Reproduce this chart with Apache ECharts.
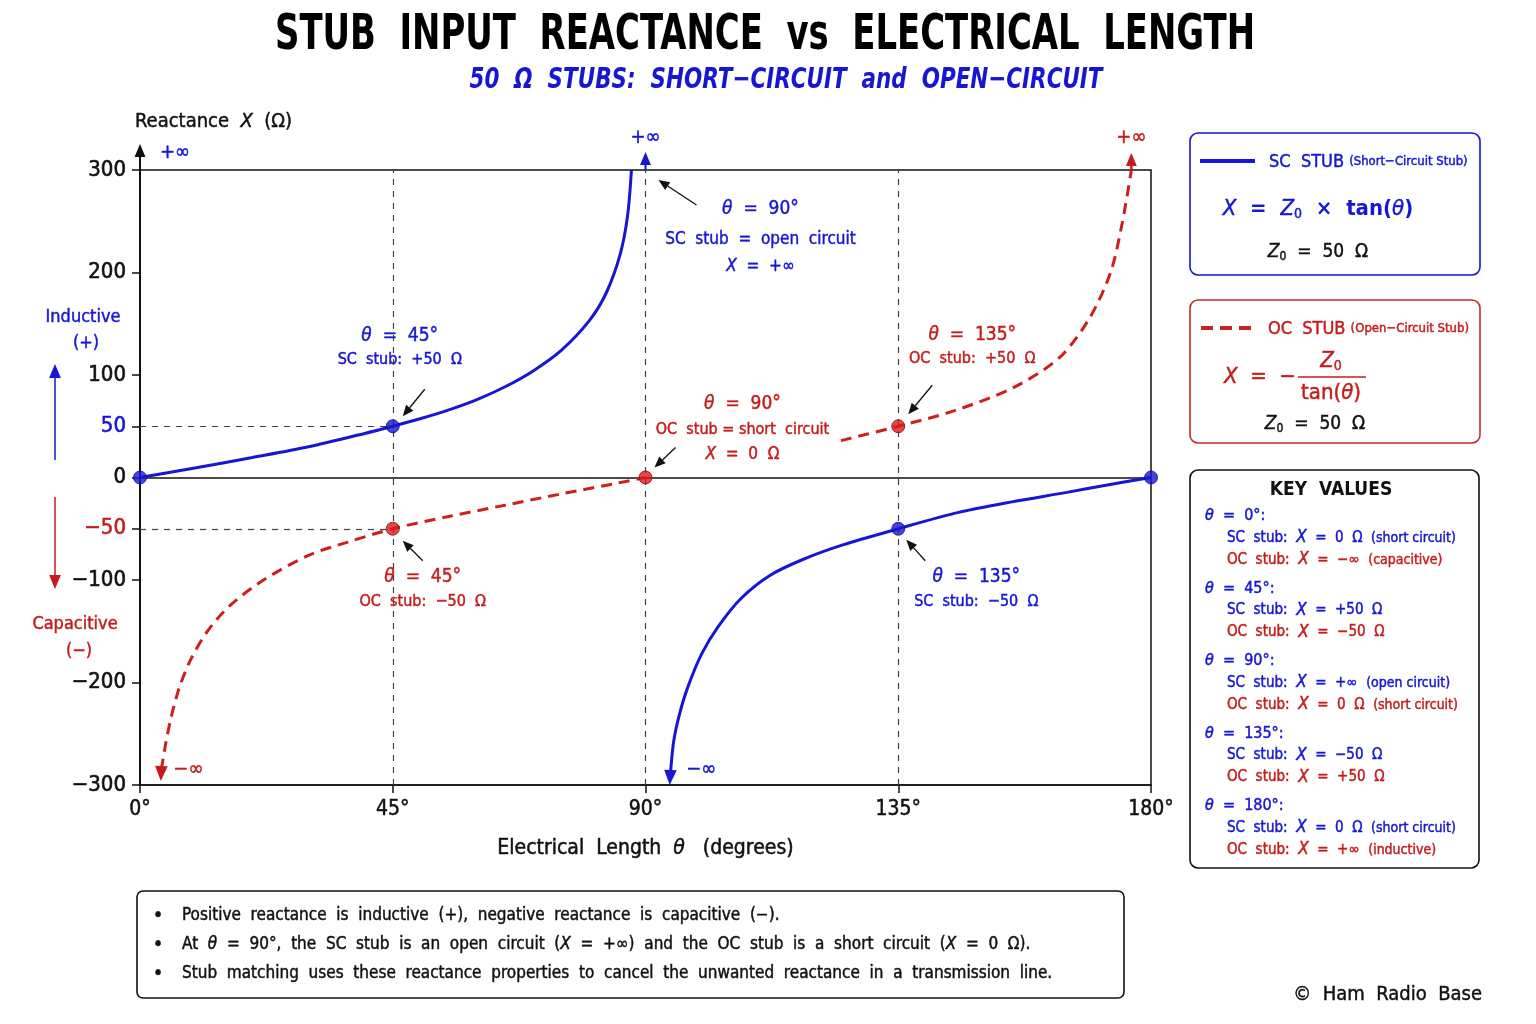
<!DOCTYPE html>
<html>
<head>
<meta charset="utf-8">
<script src="https://cdn.jsdelivr.net/npm/echarts@6/dist/echarts.min.js"></script>
<style>
  html, body { margin: 0; padding: 0; background: #fff; }
  #chart { width: 1536px; height: 1024px; }
</style>
</head>
<body>
<div id="chart"></div>
<script>
const FONT = "'DejaVu Sans Condensed', 'Liberation Sans Narrow', Roboto, sans-serif";
const TITLE_FONT = "'Liberation Sans Narrow', 'DejaVu Sans Condensed', sans-serif";
const BLUE = '#1616d4';
const RED = '#c41c1c';
const INK = '#111';

// θ in degrees, X in ohms
const scBranch1Theta = [0, 10, 20, 30, 40, 45, 50, 55, 60, 65, 70, 75, 80, 83, 85.5, 86.8, 87.5];
const scBranch1X = [0, 9.5, 19.5, 30, 43, 50, 57.5, 66, 76, 88.5, 104, 124, 153, 180, 218, 255, 300];
const scBranch2Theta = [94.4, 95, 96, 97.5, 100, 103, 107, 112, 118, 125, 135, 145, 155, 165, 172, 180];
const scBranch2X = [-292, -258, -232, -205, -172, -145, -118, -96, -80, -66, -50, -35, -24, -14.5, -7.5, 0];
const ocBranch1Theta = [3.8, 4.5, 5.5, 7, 9, 12, 16, 22, 30, 37, 45, 55, 65, 75, 85, 90];
const ocBranch1X = [-285, -262, -235, -205, -178, -150, -125, -100, -76, -63, -50, -38, -27, -16, -5.5, 0];
const ocBranch2Theta = [124.8, 135, 144.9, 155.6, 163.7, 169, 172.8, 174.9, 176.5];
const ocBranch2X = [36, 50, 65, 88, 117, 155, 200, 249, 300];

// marked key points
const scKeyTheta = [0, 45, 135, 180];
const scKeyX = [0, 50, -50, 0];
const ocKeyTheta = [45, 90, 135];
const ocKeyX = [-50, 0, 50];

// axis ticks
const xTicks = [0, 45, 90, 135, 180];
const yTicks = [300, 200, 100, 50, 0, -50, -100, -200, -300];
const guideTheta = [45, 90, 135];

const zip = (a, b) => a.map((v, i) => [v, b[i]]);
const minus = v => (v < 0 ? '\u2212' + Math.abs(v) : String(v));

const chart = echarts.init(document.getElementById('chart'));

const curve = (name, th, x, color, dashed) => ({
  name: name,
  type: 'line',
  data: zip(th, x),
  showSymbol: false,
  smooth: 0.3,
  clip: false,
  lineStyle: { color: color, width: 3, type: dashed ? [11, 7] : 'solid' },
  z: 5
});

const option = {
  animation: false,
  backgroundColor: '#fff',
  textStyle: { fontFamily: FONT },
  grid: {
    left: 140, right: 385, top: 170, bottom: 239,
    show: true, borderColor: INK, borderWidth: 1.5
  },
  xAxis: {
    type: 'value', min: 0, max: 180, interval: 45,
    axisLine: { onZero: false, lineStyle: { color: INK, width: 1.5 } },
    axisTick: { length: 8, lineStyle: { color: INK, width: 1.5 } },
    axisLabel: {
      color: INK, fontSize: 21, margin: 14, fontFamily: FONT,
      textBorderColor: INK, textBorderWidth: 0.5,
      formatter: v => v + '°'
    },
    splitLine: { show: false },
    name: 'Electrical  Length  {i|θ}   (degrees)',
    nameLocation: 'middle', nameGap: 53,
    nameTextStyle: {
      color: INK, fontSize: 21, fontFamily: FONT, textBorderColor: INK, textBorderWidth: 0.5,
      rich: { i: { fontStyle: 'italic', fontSize: 21, fontFamily: FONT, color: INK, textBorderColor: INK, textBorderWidth: 0.5 } }
    }
  },
  yAxis: {
    type: 'value', min: -300, max: 300, interval: 50,
    axisLine: { onZero: false, lineStyle: { color: INK, width: 2 } },
    axisTick: { length: 8, customValues: yTicks, lineStyle: { color: INK, width: 1.5 } },
    axisLabel: {
      customValues: yTicks, color: INK, fontSize: 22, margin: 14, fontFamily: FONT,
      textBorderColor: INK, textBorderWidth: 0.6,
      formatter: v => v === 50 ? '{b|50}' : v === -50 ? '{r|' + minus(v) + '}' : minus(v),
      rich: {
        b: { color: BLUE, fontSize: 22, fontFamily: FONT, textBorderColor: BLUE, textBorderWidth: 0.6 },
        r: { color: RED, fontSize: 22, fontFamily: FONT, textBorderColor: RED, textBorderWidth: 0.6 }
      }
    },
    splitLine: { show: false }
  },
  series: [
    {
      name: 'guides', type: 'line', data: [], silent: true,
      markLine: {
        silent: true, symbol: ['none', 'none'], label: { show: false },
        lineStyle: { color: '#444', width: 1.2, type: [6, 6] },
        data: guideTheta.map(t => ({ xAxis: t })).concat([
          [{ coord: [0, 50] }, { coord: [45, 50] }],
          [{ coord: [0, -50] }, { coord: [45, -50] }],
          { yAxis: 0, lineStyle: { color: INK, width: 1.5, type: 'solid' } }
        ])
      }
    },
    curve('SC stub', scBranch1Theta, scBranch1X, BLUE, false),
    curve('SC stub b', scBranch2Theta, scBranch2X, BLUE, false),
    curve('OC stub', ocBranch1Theta, ocBranch1X, '#cc2020', true),
    curve('OC stub b', ocBranch2Theta, ocBranch2X, '#cc2020', true),
    {
      name: 'SC points', type: 'scatter', data: zip(scKeyTheta, scKeyX), symbolSize: 13, z: 10,
      itemStyle: { color: BLUE, borderColor: '#0b0b7a', borderWidth: 1 }
    },
    {
      name: 'OC points', type: 'scatter', data: zip(ocKeyTheta, ocKeyX), symbolSize: 13, z: 10,
      itemStyle: { color: '#dd1a1a', borderColor: '#7a0b0b', borderWidth: 1 }
    }
  ]
};
chart.setOption(option);

// ---------- annotations, placed from the axis scales ----------
const P = (t, x) => chart.convertToPixel({ gridIndex: 0 }, [t, x]);

const ctx = document.createElement('canvas').getContext('2d');
function fitScale(text, font, target) {
  ctx.font = font;
  return target / ctx.measureText(text).width;
}

// a faint outline of the same colour gives the medium weight of the reference text
function txt(x, y, text, o) {
  const st = Object.assign({
    text: text, fill: INK, fontSize: 17, fontFamily: FONT,
    align: 'center', verticalAlign: 'middle'
  }, o || {});
  if (st.fontWeight !== 'bold' && st.stroke === undefined) {
    st.stroke = st.fill;
    st.lineWidth = 0.45;
  }
  return { type: 'text', x: x, y: y, z: 50, style: st };
}
function rich(color, size) {
  const base = { fontFamily: FONT, fill: color, color: color, stroke: color, lineWidth: 0.45 };
  return {
    i: Object.assign({ fontStyle: 'italic', fontSize: size }, base),
    s: Object.assign({ fontSize: Math.round(size * 0.62), padding: [Math.round(size * 0.5), 0, 0, 0] }, base),
    m: Object.assign({ fontSize: Math.round(size * 0.8) }, base)
  };
}
function arrow(x1, y1, x2, y2, color, w, h) {
  const a = Math.atan2(y2 - y1, x2 - x1), hw = h * 0.42;
  const bx = x2 - h * Math.cos(a), by = y2 - h * Math.sin(a);
  return [
    { type: 'line', z: 40, shape: { x1: x1, y1: y1, x2: bx, y2: by }, style: { stroke: color, lineWidth: w } },
    { type: 'polygon', z: 40, shape: { points: [[x2, y2], [bx - hw * Math.sin(a), by + hw * Math.cos(a)], [bx + hw * Math.sin(a), by - hw * Math.cos(a)]] }, style: { fill: color } }
  ];
}

const g = [];

// titles, squeezed to the reference widths
const titleText = 'STUB  INPUT  REACTANCE  vs  ELECTRICAL  LENGTH';
const t1 = txt(765, 36, titleText, { fontSize: 50, fontWeight: 'bold', fill: '#000', fontFamily: TITLE_FONT });
t1.scaleX = fitScale(titleText, 'bold 50px ' + TITLE_FONT, 980);
g.push(t1);
const subText = '50  \u03A9  STUBS:  SHORT\u2212CIRCUIT  and  OPEN\u2212CIRCUIT';
const t2 = txt(786, 80, subText, { fontSize: 29, fontStyle: 'italic', fontWeight: 'bold', fill: BLUE, fontFamily: TITLE_FONT });
t2.scaleX = fitScale(subText, 'italic bold 29px ' + TITLE_FONT, 633);
g.push(t2);

// y axis name + arrow
const o = P(0, 300);
g.push(txt(135, 122, 'Reactance  {i|X}  (\u03A9)', { align: 'left', fontSize: 20, rich: rich(INK, 20) }));
g.push(...arrow(o[0], o[1], o[0], o[1] - 26, INK, 2, 13));
g.push(txt(o[0] + 20, o[1] - 17, '+\u221E', { align: 'left', fontSize: 20, fill: BLUE }));

// inductive / capacitive hints
g.push(txt(83, 317, 'Inductive', { fontSize: 18, fill: BLUE }));
g.push(txt(86, 343, '(+)', { fontSize: 18, fill: BLUE }));
g.push(...arrow(55, 460, 55, 364, BLUE, 1.5, 14));
g.push(txt(75, 624, 'Capacitive', { fontSize: 18, fill: RED }));
g.push(txt(79, 651, '(\u2212)', { fontSize: 18, fill: RED }));
g.push(...arrow(55, 497, 55, 589, RED, 1.5, 14));

// asymptote arrows
const up90 = P(90, 300);
g.push(...arrow(up90[0], up90[1], up90[0], up90[1] - 18, BLUE, 2, 13));
g.push(txt(up90[0], up90[1] - 32, '+\u221E', { fontSize: 20, fill: BLUE }));
const up176 = P(ocBranch2Theta[ocBranch2Theta.length - 1], 300);
g.push(...arrow(up176[0], up176[1], up176[0], up176[1] - 17, RED, 2.5, 13));
g.push(txt(up176[0], up176[1] - 32, '+\u221E', { fontSize: 20, fill: RED }));
const dn94 = P(scBranch2Theta[0], scBranch2X[0]);
g.push(...arrow(dn94[0], dn94[1] - 2, dn94[0] - 0.5, P(0, -300)[1], BLUE, 3, 15));
g.push(txt(dn94[0] + 16, dn94[1] - 7, '\u2212\u221E', { align: 'left', fontSize: 20, fill: BLUE }));
const dn4 = P(ocBranch1Theta[0], ocBranch1X[0]);
g.push(...arrow(dn4[0], dn4[1] - 2, dn4[0] - 0.5, P(0, -296)[1], RED, 3, 15));
g.push(txt(dn4[0] + 12, dn4[1], '\u2212\u221E', { align: 'left', fontSize: 20, fill: RED }));

// point call-outs
function callout(anchor, dx, lines, ax, color) {
  const a = P(anchor[0], anchor[1]);
  lines.forEach(l => g.push(txt(a[0] + dx, a[1] + l[0], l[1], { fontSize: l[2], fill: color, rich: rich(color, l[2]) })));
  g.push(...arrow(a[0] + ax[0], a[1] + ax[1], a[0] + ax[2], a[1] + ax[3], INK, 1.3, 11));
}
callout([90, 300], 115, [[39, '{i|θ}  =  90°', 19], [70, 'SC  stub  =  open  circuit', 17], [97, '{i|X}  =  +\u221E', 17]], [51, 35, 13, 10], BLUE);
callout([45, 50], 7, [[-90, '{i|θ}  =  45°', 19], [-66, 'SC  stub:  +50  \u03A9', 16]], [32, -37, 10, -10], BLUE);
callout([135, 50], 74, [[-91, '{i|θ}  =  135°', 19], [-67, 'OC  stub:  +50  \u03A9', 16]], [34, -41, 10, -12], RED);
callout([90, 0], 97, [[-73, '{i|θ}  =  90°', 19], [-48, 'OC  stub = short  circuit', 16], [-23, '{i|X}  =  0  \u03A9', 17]], [30, -30, 9, -10], RED);
callout([45, -50], 30, [[48, '{i|θ}  =  45°', 19], [73, 'OC  stub:  \u221250  \u03A9', 16]], [30, 32, 10, 12], RED);
callout([135, -50], 78, [[48, '{i|θ}  =  135°', 19], [73, 'SC  stub:  \u221250  \u03A9', 16]], [27, 32, 8, 11], BLUE);

// ---------- right-hand panels ----------
const box = (x, y, w, h, color) => ({ type: 'rect', z: 20, shape: { x: x, y: y, width: w, height: h, r: 8 }, style: { fill: '#fff', stroke: color, lineWidth: 1.6 } });

g.push(box(1190, 133, 290, 142, BLUE));
g.push({ type: 'line', z: 30, shape: { x1: 1200, y1: 161, x2: 1255, y2: 161 }, style: { stroke: BLUE, lineWidth: 4 } });
g.push(txt(1269, 162, 'SC  STUB {m|(Short\u2212Circuit Stub)}', { align: 'left', fontSize: 18, fill: BLUE, rich: rich(BLUE, 16) }));
g.push(txt(1318, 209, '{i|X}  =  {i|Z}{s|0}  \u00D7  tan({i|θ})', { fontSize: 22, fill: BLUE, fontWeight: 'bold', rich: rich(BLUE, 22) }));
g.push(txt(1318, 252, '{i|Z}{s|0}  =  50  \u03A9', { fontSize: 19, fill: INK, rich: rich(INK, 19) }));

g.push(box(1190, 300, 290, 143, '#cc2a2a'));
g.push({ type: 'line', z: 30, shape: { x1: 1201, y1: 328, x2: 1252, y2: 328 }, style: { stroke: '#cc2020', lineWidth: 4, lineDash: [12, 7] } });
g.push(txt(1268, 329, 'OC  STUB {m|(Open\u2212Circuit Stub)}', { align: 'left', fontSize: 18, fill: RED, rich: rich(RED, 16) }));
g.push(txt(1224, 377, '{i|X}  =  \u2212', { align: 'left', fontSize: 22, fill: RED, rich: rich(RED, 22) }));
g.push(txt(1331, 361, '{i|Z}{s|0}', { fontSize: 22, fill: RED, rich: rich(RED, 22) }));
g.push({ type: 'line', z: 30, shape: { x1: 1298, y1: 377, x2: 1366, y2: 377 }, style: { stroke: RED, lineWidth: 1.5 } });
g.push(txt(1331, 393, 'tan({i|θ})', { fontSize: 22, fill: RED, rich: rich(RED, 22) }));
g.push(txt(1315, 424, '{i|Z}{s|0}  =  50  \u03A9', { fontSize: 19, fill: INK, rich: rich(INK, 19) }));

g.push(box(1190, 470, 289, 398, INK));
g.push(txt(1331, 490, 'KEY  VALUES', { fontSize: 19, fontWeight: 'bold', fill: INK }));
const keyAngles = ['0°', '45°', '90°', '135°', '180°'];
const keySC = ['0  \u03A9  {m|(short circuit)}', '+50  \u03A9', '+\u221E  {m|(open circuit)}', '\u221250  \u03A9', '0  \u03A9  {m|(short circuit)}'];
const keyOC = ['\u2212\u221E  {m|(capacitive)}', '\u221250  \u03A9', '0  \u03A9  {m|(short circuit)}', '+50  \u03A9', '+\u221E  {m|(inductive)}'];
keyAngles.forEach((a, k) => {
  const y = 516 + k * 72.5;
  g.push(txt(1205, y, '{i|θ}  =  ' + a + ':', { align: 'left', fontSize: 16, fill: BLUE, rich: rich(BLUE, 16) }));
  g.push(txt(1227, y + 22, 'SC  stub:  {i|X}  =  ' + keySC[k], { align: 'left', fontSize: 15, fill: BLUE, rich: rich(BLUE, 17) }));
  g.push(txt(1227, y + 44, 'OC  stub:  {i|X}  =  ' + keyOC[k], { align: 'left', fontSize: 15, fill: RED, rich: rich(RED, 17) }));
});

// ---------- notes ----------
g.push({ type: 'rect', z: 20, shape: { x: 137, y: 891, width: 987, height: 107, r: 6 }, style: { fill: '#fff', stroke: INK, lineWidth: 1.6 } });
const notes = [
  'Positive  reactance  is  inductive  (+),  negative  reactance  is  capacitive  (\u2212).',
  'At  {i|θ}  =  90°,  the  SC  stub  is  an  open  circuit  ({i|X}  =  +\u221E)  and  the  OC  stub  is  a  short  circuit  ({i|X}  =  0  \u03A9).',
  'Stub  matching  uses  these  reactance  properties  to  cancel  the  unwanted  reactance  in  a  transmission  line.'
];
notes.forEach((n, k) => {
  const y = 916 + k * 29;
  g.push(txt(158, y, '\u2022', { fontSize: 20 }));
  g.push(txt(182, y, n, { align: 'left', fontSize: 17, rich: rich(INK, 17) }));
});

g.push(txt(1482, 995, '\u00A9  Ham  Radio  Base', { align: 'right', fontSize: 20, fill: INK }));

chart.setOption({ graphic: g });
</script>
</body>
</html>
